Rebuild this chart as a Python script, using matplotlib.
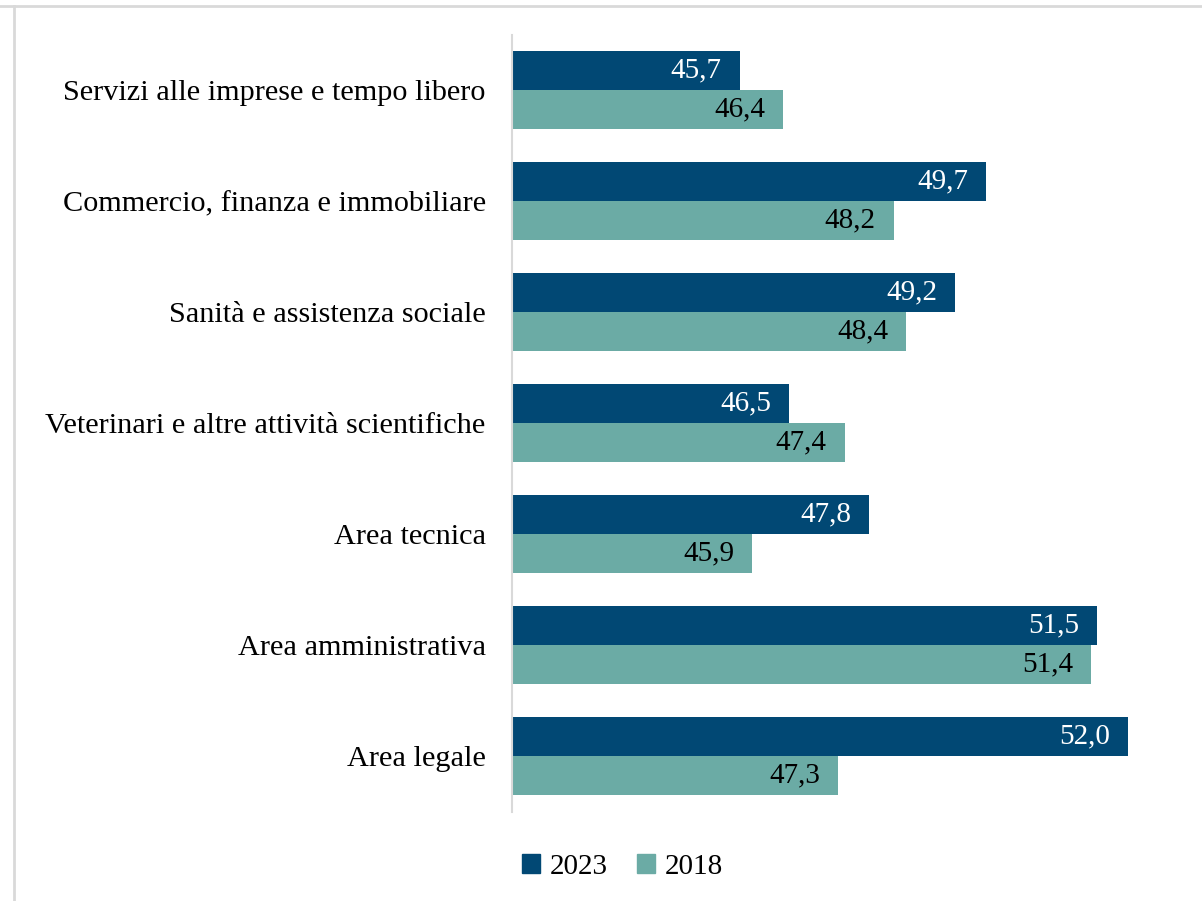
import matplotlib
matplotlib.use("Agg")
import matplotlib.pyplot as plt
from matplotlib.lines import Line2D
import numpy as np

categories = ["Servizi alle imprese e tempo libero",
              "Commercio, finanza e immobiliare",
              "Sanità e assistenza sociale",
              "Veterinari e altre attività scientifiche",
              "Area tecnica",
              "Area amministrativa",
              "Area legale"]
values_2023 = [45.7, 49.7, 49.2, 46.5, 47.8, 51.5, 52.0]
values_2018 = [46.4, 48.2, 48.4, 47.4, 45.9, 51.4, 47.3]
series_names = ["2023", "2018"]

c2023 = "#014874"
c2018 = "#6BABA5"

plt.rcParams['font.family'] = ['Liberation Serif', 'DejaVu Serif']

fig = plt.figure(figsize=(12.02, 9.01), dpi=100)
ax = fig.add_axes([0.426, 0.0993, 0.538, 0.8624])

y = np.arange(len(categories))
h = 0.35
b1 = ax.barh(y - h/2, values_2023, height=h, color=c2023, label=series_names[0], left=0)
b2 = ax.barh(y + h/2, values_2018, height=h, color=c2018, label=series_names[1], left=0)

ax.set_xlim(42, 52.5)
ax.set_ylim(len(categories) - 0.5, -0.5)

def fmt(v):
    return f"{v:.1f}".replace(".", ",")

for bar, v in zip(b1, values_2023):
    ax.annotate(fmt(v), (v, bar.get_y() + bar.get_height()/2), xytext=(-13, 0),
                textcoords="offset points", ha="right", va="center",
                color="white", fontsize=21)
for bar, v in zip(b2, values_2018):
    ax.annotate(fmt(v), (v, bar.get_y() + bar.get_height()/2), xytext=(-13, 0),
                textcoords="offset points", ha="right", va="center",
                color="black", fontsize=21)

ax.set_yticks(y)
ax.set_yticklabels(categories, fontsize=21.8)
ax.tick_params(axis="y", length=0, pad=19)
ax.set_xticks([])
for s in ["top", "right", "bottom"]:
    ax.spines[s].set_visible(False)
ax.spines["left"].set_color("#D9D9D9")
ax.spines["left"].set_linewidth(1.5)

handles = [plt.Rectangle((0, 0), 1, 1, color=c2023), plt.Rectangle((0, 0), 1, 1, color=c2018)]
fig.legend(handles, series_names, loc="center", bbox_to_anchor=(0.518, 0.038),
           ncol=2, frameon=False, fontsize=21, handlelength=0.6, handleheight=0.6,
           handletextpad=0.35, columnspacing=1.0)

# outer frame lines (partial chart border)
fig.add_artist(Line2D([0, 1], [1 - 5.5/901, 1 - 5.5/901], transform=fig.transFigure, color="#D9D9D9", lw=2))
fig.add_artist(Line2D([14/1202, 14/1202], [0, 1 - 5.5/901], transform=fig.transFigure, color="#D9D9D9", lw=2))

fig.savefig("out.png", dpi=100)
